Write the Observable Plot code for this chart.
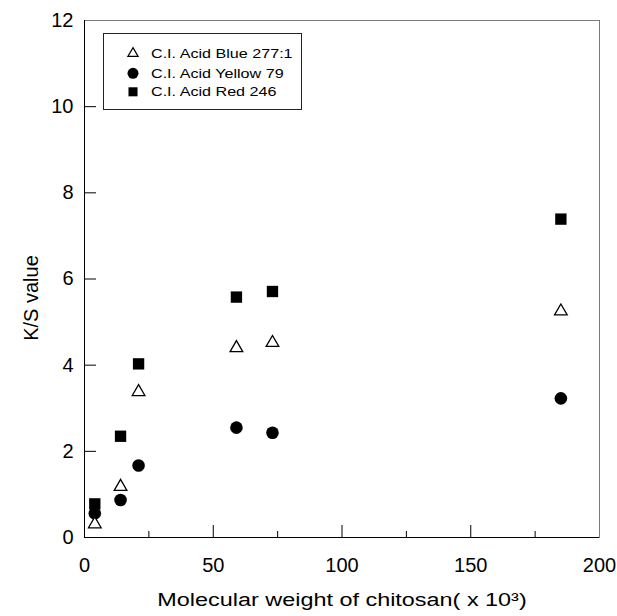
<!DOCTYPE html>
<html><head><meta charset="utf-8">
<script src="https://cdn.jsdelivr.net/npm/d3@7"></script>
<script src="https://cdn.jsdelivr.net/npm/@observablehq/plot@0.6"></script>
<style>
body{margin:0;background:#fff;}
#wrap{position:relative;width:617px;height:616px;font-family:"Liberation Sans",Arial,sans-serif;}
#legend{position:absolute;left:103px;top:33px;width:197px;height:75px;border:1px solid #222;background:#fff;}
</style></head><body><div id="wrap"></div>
<script>
const molecularWeight = [4, 14, 21, 59, 73, 185];
const acidBlue = [0.31, 1.18, 3.38, 4.40, 4.52, 5.25];
const acidYellow = [0.56, 0.87, 1.67, 2.55, 2.43, 3.23];
const acidRed = [0.78, 2.35, 4.03, 5.58, 5.71, 7.39];
const seriesNames = ["C.I. Acid Blue 277:1", "C.I. Acid Yellow 79", "C.I. Acid Red 246"];
const xTicks = [0, 50, 100, 150, 200];
const xMinorTicks = [25, 75, 125, 175];
const yTicks = [0, 2, 4, 6, 8, 10, 12];
const xLabel = "Molecular weight of chitosan( x 10³)";
const yLabel = "K/S value";

const rows = (vals, name) => molecularWeight.map((x, i) => ({x, y: vals[i], series: name}));
const blue = rows(acidBlue, seriesNames[0]);
const yellow = rows(acidYellow, seriesNames[1]);
const red = rows(acidRed, seriesNames[2]);

const FONT = "Liberation Sans, Arial, sans-serif";
const plot = Plot.plot({
  width: 617, height: 616,
  marginLeft: 84, marginRight: 18, marginTop: 20, marginBottom: 79,
  style: {fontFamily: FONT, fontSize: "20px", color: "#000", background: "#fff", overflow: "visible"},
  x: {domain: [0, 200]},
  y: {domain: [0, 12]},
  marks: [
    Plot.frame({stroke: "#7a7a7a"}),
    Plot.ruleX(xTicks.slice(1, -1), {x: d => d, y1: 0, y2: 0, insetBottom: 12, stroke: "#000"}),
    Plot.ruleX(xMinorTicks, {x: d => d, y1: 0, y2: 0, insetBottom: 6, stroke: "#000"}),
    Plot.ruleY(yTicks.slice(1, -1), {y: d => d, x1: 0, x2: 0, insetRight: -12, stroke: "#000"}),
    Plot.ruleY([0], {stroke: "#000"}),
    Plot.ruleX([0], {stroke: "#000"}),
    Plot.axisX(xTicks, {tickSize: 0, tickPadding: 20, label: null, fontSize: 20}),
    Plot.axisY(yTicks, {tickSize: 0, tickPadding: 11, label: null, fontSize: 20}),
    Plot.text([xLabel], {frameAnchor: "bottom", dy: 68, fontSize: 18, fill: "#000", className: "xtitle"}),
    Plot.text([yLabel], {frameAnchor: "left", textAnchor: "middle", dx: -53, dy: 19, rotate: -90, fontSize: 20, fill: "#000"}),
    Plot.dot(red, {x: "x", y: "y", symbol: "square", r: 6.4, fill: "#000", stroke: "none"}),
    Plot.dot(yellow, {x: "x", y: "y", symbol: "circle", r: 6.3, fill: "#000", stroke: "none"}),
    Plot.dot(blue, {x: "x", y: "y", symbol: "triangle", r: 4.7, fill: "#fff", stroke: "#000", strokeWidth: 1.3})
  ]
});
const wrap = document.getElementById("wrap");
wrap.appendChild(plot);

// horizontally stretch the x title to match the original's wide lettering
const xt = plot.querySelector(".xtitle text");
if (xt) {
  const L = xt.getComputedTextLength();
  xt.setAttribute("textLength", L * 1.3);
  xt.setAttribute("lengthAdjust", "spacingAndGlyphs");
}

// legend
const legendDiv = document.createElement("div");
legendDiv.id = "legend";
wrap.appendChild(legendDiv);
const legendItems = [
  {name: seriesNames[0], type: d3.symbolTriangle, r: 3.8, fill: "#fff", stroke: "#000"},
  {name: seriesNames[1], type: d3.symbolCircle, r: 5.5, fill: "#000", stroke: "none"},
  {name: seriesNames[2], type: d3.symbolSquare, r: 5.1, fill: "#000", stroke: "none"}
];
const lsvg = d3.select(legendDiv).append("svg").attr("width", 197).attr("height", 75)
  .style("font-family", FONT).style("font-size", "13px");
const rowY = [19.5, 39.3, 57.8];
legendItems.forEach((it, i) => {
  const g = lsvg.append("g").attr("transform", `translate(0,${rowY[i]})`);
  g.append("path").attr("transform", "translate(29,0)")
    .attr("d", d3.symbol().type(it.type).size(Math.PI * it.r * it.r)())
    .attr("fill", it.fill).attr("stroke", it.stroke).attr("stroke-width", 1.2);
  const t = g.append("text").attr("x", 47).attr("dy", "0.35em").attr("fill", "#000").text(it.name);
  const L = t.node().getComputedTextLength();
  t.attr("textLength", L * 1.24).attr("lengthAdjust", "spacingAndGlyphs");
});
</script></body></html>
